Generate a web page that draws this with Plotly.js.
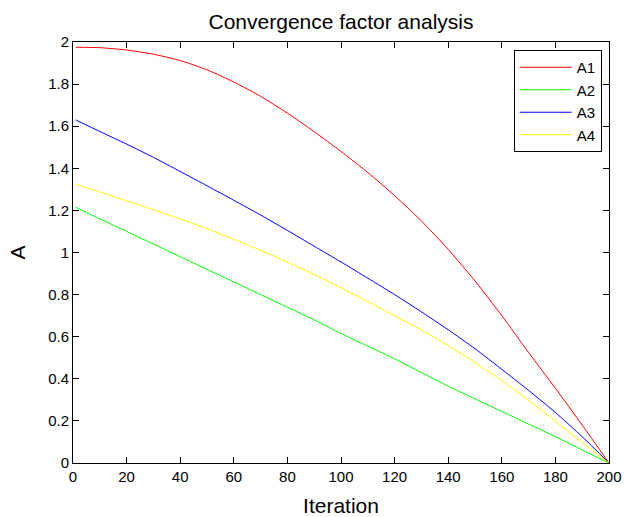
<!DOCTYPE html>
<html>
<head>
<meta charset="utf-8">
<script src="https://cdn.plot.ly/plotly-3.0.1.min.js"></script>
<style>html,body{margin:0;padding:0;background:#fff;}#chart{width:628px;height:517px;}</style>
</head>
<body>
<div id="chart"></div>
<script>
const iteration = [1,10,20,30,40,50,60,70,80,90,100,110,120,130,140,150,160,170,180,190,200];
const A1 = [1.975,1.973,1.962,1.942,1.912,1.868,1.81,1.742,1.662,1.574,1.48,1.38,1.27,1.15,1.015,0.865,0.70,0.525,0.355,0.18,0];
const A2 = [1.215,1.16,1.10,1.04,0.98,0.92,0.86,0.80,0.74,0.68,0.615,0.555,0.495,0.43,0.365,0.305,0.245,0.185,0.125,0.062,0];
const A3 = [1.63,1.575,1.515,1.452,1.385,1.317,1.248,1.178,1.105,1.03,0.955,0.878,0.80,0.718,0.633,0.543,0.445,0.345,0.24,0.125,0];
const A4 = [1.325,1.287,1.246,1.203,1.16,1.113,1.063,1.01,0.955,0.895,0.832,0.767,0.70,0.632,0.558,0.478,0.392,0.298,0.198,0.098,0];
const seriesNames = ['A1','A2','A3','A4'];
const seriesColors = ['#ff0000','#00ff00','#0000ff','#ffff00'];
const seriesData = [A1, A2, A3, A4];

const traces = seriesData.map((ys, i) => ({
  x: iteration, y: ys, type: 'scatter', mode: 'lines', name: seriesNames[i],
  line: {color: seriesColors[i], width: 1, shape: 'spline', smoothing: 0.6}
}));

const axisCommon = {
  showline: true, linecolor: '#000', linewidth: 1, mirror: 'ticks',
  ticks: 'inside', ticklen: 6, tickwidth: 1, tickcolor: '#000',
  showgrid: false, zeroline: false, tickfont: {size: 15, color: '#000'}
};

const layout = {
  width: 628, height: 517,
  margin: {l: 73, r: 19, t: 42, b: 54, pad: 0},
  paper_bgcolor: '#fff', plot_bgcolor: '#fff',
  font: {family: '"Liberation Sans", Arial, Helvetica, sans-serif', size: 15, color: '#000'},
  title: {text: 'Convergence factor analysis', font: {size: 21, color: '#000'},
          x: 0.5, xref: 'paper', y: 1 - 22/517, yref: 'container', yanchor: 'middle'},
  xaxis: Object.assign({}, axisCommon, {
    range: [0, 200], tick0: 0, dtick: 20,
    title: {text: 'Iteration', font: {size: 21, color: '#000'}, standoff: 14}
  }),
  yaxis: Object.assign({}, axisCommon, {
    range: [0, 2], tick0: 0, dtick: 0.2,
    title: {text: 'A', font: {size: 21, color: '#000'}, standoff: 16}
  }),
  showlegend: true,
  legend: {
    x: 0.9864, xanchor: 'right', y: 0.981, yanchor: 'top',
    bgcolor: '#fff', bordercolor: '#000', borderwidth: 1,
    font: {size: 15, color: '#000'}, itemwidth: 52, tracegroupgap: 0
  }
};

Plotly.newPlot('chart', traces, layout, {staticPlot: true, displayModeBar: false});
</script>
</body>
</html>
